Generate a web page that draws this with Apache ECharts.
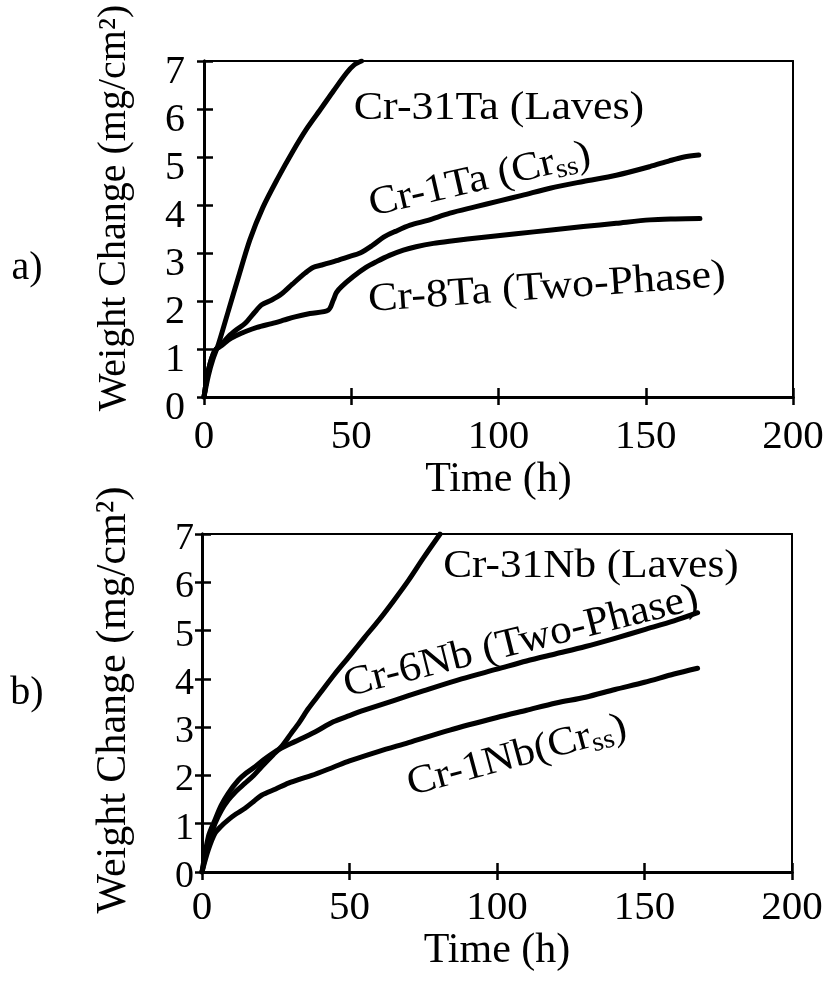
<!DOCTYPE html>
<html>
<head>
<meta charset="utf-8">
<script src="https://cdn.jsdelivr.net/npm/echarts@6/dist/echarts.min.js"></script>
<style>
html, body { margin: 0; padding: 0; background: #fff; }
#chart { width: 832px; height: 986px; }
</style>
</head>
<body>
<div id="chart"></div>
<script>
// a) Cr-Ta alloys, [time (h), weight change (mg/cm2)]
var ta31 = [[0,0],[1.5,0.45],[3,0.78],[4.9,1.1],[8.3,1.8],[11.7,2.5],[15.6,3.28],[20,3.95],[25,4.55],[30,5.1],[35,5.6],[40,6.03],[44,6.38],[48.4,6.75],[51,6.92],[53.5,7.0]];
var ta1 = [[0,0],[1.5,0.56],[3.7,0.97],[6,1.1],[8.3,1.26],[11,1.4],[13.9,1.53],[17,1.75],[19.6,1.92],[23,2.02],[26.4,2.15],[30,2.35],[34.3,2.58],[37,2.7],[40,2.75],[45,2.84],[49,2.92],[53,3.0],[57,3.15],[61,3.33],[65,3.45],[70,3.58],[76,3.68],[83.5,3.83],[92,3.96],[100,4.08],[108,4.2],[117.5,4.35],[128.8,4.49],[140,4.62],[151.4,4.8],[158,4.92],[163,5.0],[168,5.04]];
var ta8 = [[0,0],[1.5,0.56],[3.7,0.97],[6,1.07],[8.3,1.19],[11,1.28],[13.9,1.36],[18,1.45],[23,1.53],[27,1.6],[30.9,1.67],[36,1.74],[42.2,1.81],[43.9,2.02],[45,2.18],[46.7,2.3],[50.7,2.51],[55,2.7],[58.6,2.82],[63,2.95],[67.7,3.06],[72,3.13],[77.9,3.2],[84,3.25],[95,3.33],[106,3.4],[118,3.48],[128.8,3.55],[140,3.62],[151.4,3.69],[160,3.71],[168.4,3.72]];

// b) Cr-Nb alloys
var nb31 = [[0,0],[2,0.55],[4.4,1.0],[6.5,1.27],[8.9,1.49],[11.5,1.67],[14.6,1.84],[17.5,2.0],[20.2,2.18],[24,2.42],[27,2.6],[30,2.85],[33,3.1],[36,3.38],[40,3.7],[45,4.1],[50,4.47],[55,4.85],[60,5.22],[65,5.62],[70,6.04],[75,6.5],[80.7,7.0]];
var nb6 = [[0,0],[2.15,0.73],[4.4,1.08],[6.5,1.38],[8.9,1.63],[12.3,1.9],[15,2.05],[18,2.18],[21,2.33],[24.7,2.49],[28,2.6],[31.5,2.7],[38.3,2.9],[44.5,3.11],[50,3.24],[55,3.35],[65,3.55],[75,3.75],[88,4.0],[100,4.2],[110,4.37],[120,4.52],[130,4.67],[140,4.84],[150,5.02],[160,5.2],[168,5.37]];
var nb1 = [[0,0],[2.15,0.46],[4.4,0.8],[6.5,0.95],[8.9,1.08],[11.5,1.2],[14.6,1.32],[17.5,1.46],[20.2,1.59],[25,1.72],[29.3,1.84],[33,1.92],[37.2,2.0],[44.5,2.17],[50,2.3],[60,2.5],[70,2.68],[84,2.94],[100,3.2],[110,3.35],[120,3.5],[130,3.62],[140,3.78],[150,3.93],[160,4.1],[168,4.22]];

var xTicks = [0, 200, 50];   // min, max, interval
var yTicks = [0, 7, 1];
var xName = 'Time (h)';
var yName = 'Weight Change (mg/cm²)';

var dom = document.getElementById("chart");
var myChart = echarts.init(dom);
var serif = "'Liberation Serif', 'Times New Roman', serif";

function xBase(g, pos) {
    return {
        type: 'value', gridIndex: g, position: pos, min: xTicks[0], max: xTicks[1], interval: xTicks[2],
        splitLine: { show: false },
        axisLine: { show: true, onZero: false, lineStyle: { color: '#000', width: pos === 'top' ? 2 : 3 } }
    };
}
function yBase(g, pos) {
    return {
        type: 'value', gridIndex: g, position: pos, min: yTicks[0], max: yTicks[1], interval: yTicks[2],
        splitLine: { show: false },
        axisLine: { show: true, onZero: false, lineStyle: { color: '#000', width: pos === 'right' ? 2 : 3 } }
    };
}

// main axis (inside ticks + labels), overlay axis (outside ticks) -> crossing ticks,
// plus a bare axis on the opposite side for the frame
function xAxes(g, labelMargin) {
    return [
        Object.assign(xBase(g, 'bottom'), {
            axisTick: { show: true, inside: true, length: 9, lineStyle: { color: '#000', width: 2.5 } },
            axisLabel: { show: true, color: '#000', fontSize: 41, fontFamily: serif, margin: labelMargin },
            name: xName, nameLocation: 'middle', nameGap: 58,
            nameTextStyle: { color: '#000', fontSize: 42, fontFamily: serif }
        }),
        Object.assign(xBase(g, 'bottom'), {
            axisTick: { show: true, inside: false, length: 8, lineStyle: { color: '#000', width: 2.5 } },
            axisLabel: { show: false }
        }),
        Object.assign(xBase(g, 'top'), {
            axisTick: { show: false }, axisLabel: { show: false }
        })
    ];
}

function yAxes(g, labelMargin, drop, size) {
    return [
        Object.assign(yBase(g, 'left'), {
            axisTick: { show: true, inside: true, length: 9, lineStyle: { color: '#000', width: 2.5 } },
            axisLabel: { show: true, color: '#000', fontSize: size, fontFamily: serif, margin: labelMargin,
                         verticalAlign: 'top', lineHeight: drop * 2 }
        }),
        Object.assign(yBase(g, 'left'), {
            axisTick: { show: true, inside: false, length: 7, lineStyle: { color: '#000', width: 2.5 } },
            axisLabel: { show: false }
        }),
        Object.assign(yBase(g, 'right'), {
            axisTick: { show: false }, axisLabel: { show: false }
        })
    ];
}

function line(name, data, xi, yi) {
    return {
        name: name, type: 'line', data: data, xAxisIndex: xi, yAxisIndex: yi,
        showSymbol: false, symbol: 'none', smooth: 0.3, clip: true,
        lineStyle: { color: '#000', width: 5, cap: 'round', join: 'round' }
    };
}

function label(text, x, y, deg, size, sx) {
    return {
        type: 'text', x: x, y: y, rotation: deg * Math.PI / 180, scaleX: sx || 1, z: 100,
        style: { text: text, fill: '#000', font: size + 'px ' + serif, align: 'center', verticalAlign: 'middle' }
    };
}

function subLabel(main, sub, tail, x, y, deg) {
    return {
        type: 'text', x: x, y: y, rotation: deg * Math.PI / 180, scaleX: 1.08, z: 100,
        style: {
            text: '{a|' + main + '}{b|' + sub + '}{a|' + tail + '}',
            fill: '#000', align: 'center', verticalAlign: 'middle',
            fontSize: 40, fontFamily: serif,
            rich: {
                a: { fontSize: 40, fontFamily: serif, fill: '#000', lineHeight: 44 },
                b: { fontSize: 27, fontFamily: serif, fill: '#000', verticalAlign: 'bottom', lineHeight: 30 }
            }
        }
    };
}

option = {
    animation: false,
    backgroundColor: '#fff',
    textStyle: { fontFamily: serif },
    grid: [
        { left: 204, top: 61, width: 589, height: 336 },
        { left: 202, top: 534, width: 590, height: 338 }
    ],
    xAxis: xAxes(0, 20).concat(xAxes(1, 16)),
    yAxis: yAxes(0, 19, 11.5, 40).concat(yAxes(1, 8, 5, 38)),
    series: [
        line('Cr-31Ta (Laves)', ta31, 0, 0),
        line('Cr-1Ta (Crss)', ta1, 0, 0),
        line('Cr-8Ta (Two-Phase)', ta8, 0, 0),
        line('Cr-31Nb (Laves)', nb31, 3, 3),
        line('Cr-6Nb (Two-Phase)', nb6, 3, 3),
        line('Cr-1Nb(Crss)', nb1, 3, 3)
    ],
    graphic: [
        label('a)', 27, 268, 0, 40),
        label('b)', 27, 693, 0, 40),
        label(yName, 114, 208, 90, 40),
        label(yName, 114, 700, 90, 42),
        label('Cr-31Ta (Laves)', 499, 108, 0, 40, 1.1),
        subLabel('Cr-1Ta (Cr', 'ss', ')', 480, 180, 13),
        label('Cr-8Ta (Two-Phase)', 547, 288, 4, 40, 1.1),
        label('Cr-31Nb (Laves)', 591, 566, 0, 40, 1.08),
        label('Cr-6Nb (Two-Phase)', 521, 642, 14, 41, 1.06),
        subLabel('Cr-1Nb(Cr', 'ss', ')', 517, 756, 15)
    ]
};

if (option && typeof option === "object") {
    myChart.setOption(option, true);
}

window.onresize = function () {
    myChart.resize();
};
</script>
</body>
</html>
